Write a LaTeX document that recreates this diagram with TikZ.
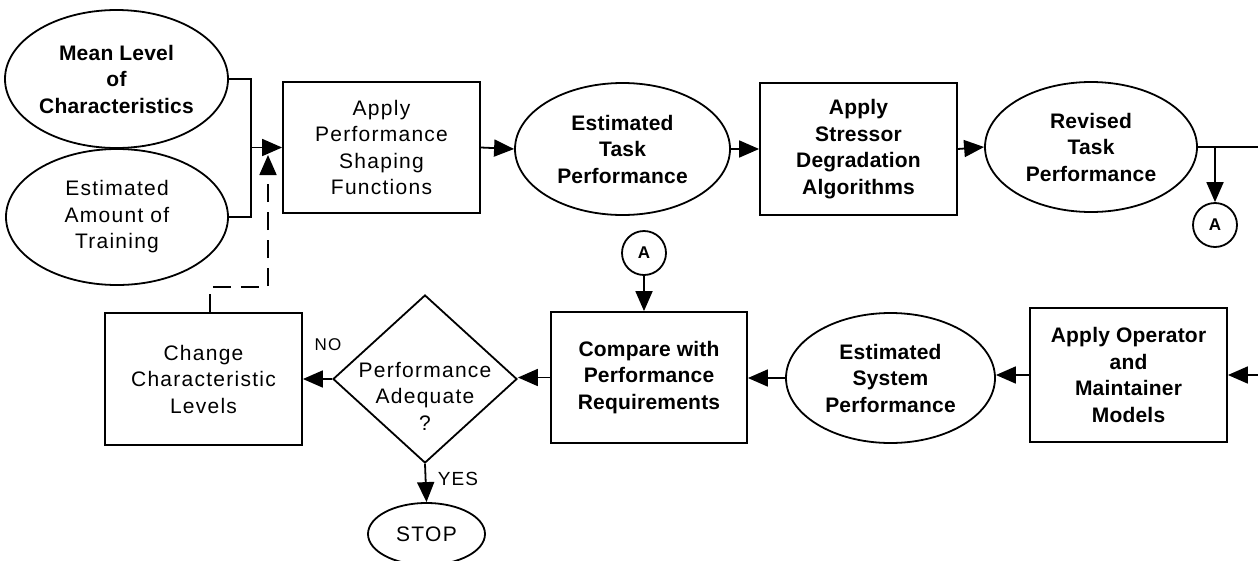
\documentclass[tikz,border=0pt]{standalone}
\usepackage{fontspec}
\setmainfont{Liberation Sans}[LetterSpace=6]
\newfontfamily\heavyfam{Liberation Sans}[LetterSpace=1]
\usetikzlibrary{shapes.geometric,arrows.meta}
\newcommand{\lite}{\fontsize{21}{26.5}\selectfont}
\newcommand{\heavy}{\heavyfam\bfseries\fontsize{21}{26.5}\selectfont}
\tikzset{
  base/.style={draw, line width=1.8pt, align=center, inner sep=0pt, font=\lite},
  heavytext/.style={font=\heavy},
  oval/.style={base, ellipse},
  boxnode/.style={base, rectangle},
  connector/.style={base, circle, minimum size=44pt, font=\heavyfam\bfseries\fontsize{17}{20}\selectfont},
  wire/.style={line width=1.8pt},
  tip/.style={-{Triangle[length=20pt,width=17pt]}},
  flow/.style={line width=1.8pt, tip},
  feedback/.style={line width=1.8pt, tip, dash pattern=on 18pt off 10pt},
  tag/.style={inner sep=0pt}
}
\begin{document}
\begin{tikzpicture}[x=1pt,y=-1pt]
\useasboundingbox (0,0) rectangle (1258,560);

% upper row
\node[oval, heavytext, minimum width=223pt, minimum height=138pt] (mean) at (116.5,79) {Mean Level\\of\\Characteristics};
\node[oval, minimum width=222pt, minimum height=136pt] (train) at (117,217) {Estimated\\Amount of\\Training};
\node[boxnode, minimum width=197pt, minimum height=131pt] (apf) at (381.5,147.5) {Apply\\Performance\\Shaping\\Functions};
\node[oval, heavytext, minimum width=215pt, minimum height=132pt] (etp) at (622.5,149) {Estimated\\Task\\Performance};
\node[boxnode, heavytext, minimum width=197pt, minimum height=132pt] (asd) at (858.5,149) {Apply\\Stressor\\Degradation\\Algorithms};
\node[oval, heavytext, minimum width=212pt, minimum height=130pt] (rtp) at (1091,147) {Revised\\Task\\Performance};
\node[connector] (a1) at (1215,225) {A};

% lower row
\node[boxnode, heavytext, minimum width=197pt, minimum height=134pt] (aom) at (1128.5,375) {Apply Operator\\and\\Maintainer\\Models};
\node[oval, heavytext, minimum width=209pt, minimum height=130pt] (esp) at (890.5,378) {Estimated\\System\\Performance};
\node[boxnode, heavytext, minimum width=196pt, minimum height=131pt] (cmp) at (649,377.5) {Compare with\\Performance\\Requirements};
\node[connector] (a2) at (644,253) {A};
\node[base, diamond, minimum width=184pt, minimum height=168pt] (dec) at (425,379) {};
\node[align=center, font=\lite] (dectext) at (425,396) {Performance\\Adequate\\?};
\node[boxnode, minimum width=197pt, minimum height=132pt] (ccl) at (203.5,379) {Change\\Characteristic\\Levels};
\node[oval, minimum width=117pt, minimum height=62pt] (stop) at (426.5,534) {STOP};

\node[tag, font=\fontsize{17}{20}\selectfont] (no) at (328,345) {NO};
\node[tag, font=\fontsize{19}{22}\selectfont] (yes) at (458,479) {YES};

% junction points
\coordinate (join) at (251,147.5);
\coordinate (loopin) at (268,155);
\coordinate (loopcorner) at (268,287);
\coordinate (rout) at (1262,147);
\coordinate (rin) at (1262,375);

% connectors
\draw[wire] (mean.east) -| (join);
\draw[wire] (train.east) -| (join);
\draw[flow] (join) -- (apf.west);
\draw[flow] (apf.east) -- (etp.west);
\draw[flow] (asd.west -| etp.east) -- (asd.west);
\draw[flow] (asd.east) -- (rtp.west);
\draw[wire] (rtp.east) -- (rout);
\draw[flow] (a1.north |- rtp.east) -- (a1.north);
\draw[flow] (rin) -- (aom.east);
\draw[flow] (aom.west) -- (aom.west -| esp.east);
\draw[flow] (esp.west) -- (esp.west -| cmp.east);
\draw[flow] (a2.south) -- (a2.south |- cmp.north);
\draw[flow] (cmp.west) -- (cmp.west -| dec.east);
\draw[flow] (dec.west) -- (dec.west -| ccl.east);
\draw[flow] (dec.south) -- (stop.north);
\draw[feedback] ([xshift=6.5pt]ccl.north) |- (loopcorner) -- (loopin);
\end{tikzpicture}
\end{document}
